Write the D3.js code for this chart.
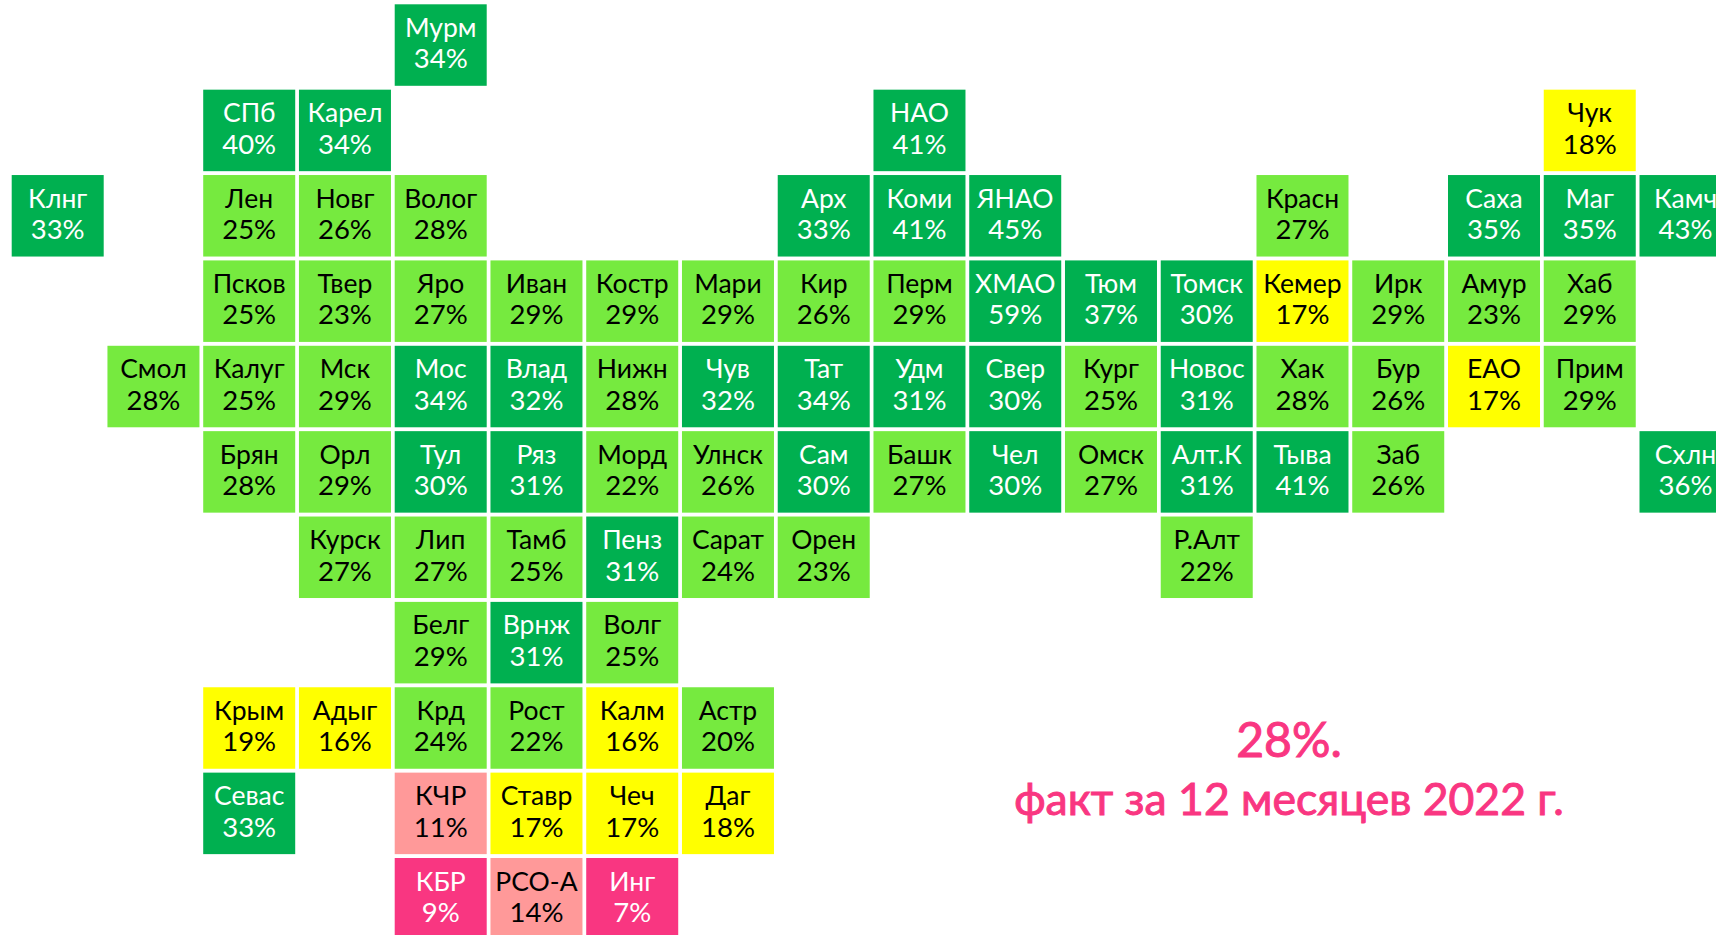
<!DOCTYPE html>
<html lang="ru">
    <head>
        <meta charset="utf-8">
        <title>Tile map</title>
        <script src="https://cdn.jsdelivr.net/npm/d3@7"></script>
        <style>
            html, body { margin: 0; padding: 0; background: #fff; overflow: hidden; }
            svg { display: block; }
            text { font-family: "Lato", "Open Sans", sans-serif; text-anchor: middle; }
            .tile text { font-weight: 400; }
            .tile .name { font-size: 26.5px; }
            .tile .pct { font-size: 27.5px; }
            .note { font-weight: 400; fill: #f93681; stroke: #f93681; stroke-width: 1px; }
        </style>
    </head>
    <body>
        <script>
            var regions = ["Мурм",
                "СПб", "Карел", "НАО", "Чук",
                "Клнг", "Лен", "Новг", "Волог", "Арх", "Коми", "ЯНАО", "Красн", "Саха", "Маг", "Камч",
                "Псков", "Твер", "Яро", "Иван", "Костр", "Мари", "Кир", "Перм", "ХМАО", "Тюм", "Томск", "Кемер", "Ирк", "Амур", "Хаб",
                "Смол", "Калуг", "Мск", "Мос", "Влад", "Нижн", "Чув", "Тат", "Удм", "Свер", "Кург", "Новос", "Хак", "Бур", "ЕАО", "Прим",
                "Брян", "Орл", "Тул", "Ряз", "Морд", "Улнск", "Сам", "Башк", "Чел", "Омск", "Алт.К", "Тыва", "Заб", "Схлн",
                "Курск", "Лип", "Тамб", "Пенз", "Сарат", "Орен", "Р.Алт",
                "Белг", "Врнж", "Волг",
                "Крым", "Адыг", "Крд", "Рост", "Калм", "Астр",
                "Севас", "КЧР", "Ставр", "Чеч", "Даг",
                "КБР", "РСО-А", "Инг"];
            var values = [34,
                40, 34, 41, 18,
                33, 25, 26, 28, 33, 41, 45, 27, 35, 35, 43,
                25, 23, 27, 29, 29, 29, 26, 29, 59, 37, 30, 17, 29, 23, 29,
                28, 25, 29, 34, 32, 28, 32, 34, 31, 30, 25, 31, 28, 26, 17, 29,
                28, 29, 30, 31, 22, 26, 30, 27, 30, 27, 31, 41, 26, 36,
                27, 27, 25, 31, 24, 23, 22,
                29, 31, 25,
                19, 16, 24, 22, 16, 20,
                33, 11, 17, 17, 18,
                9, 14, 7];
            // tile map grid: column of each region
            var gridCols = [4,
                2, 3, 9, 16,
                0, 2, 3, 4, 8, 9, 10, 13, 15, 16, 17,
                2, 3, 4, 5, 6, 7, 8, 9, 10, 11, 12, 13, 14, 15, 16,
                1, 2, 3, 4, 5, 6, 7, 8, 9, 10, 11, 12, 13, 14, 15, 16,
                2, 3, 4, 5, 6, 7, 8, 9, 10, 11, 12, 13, 14, 17,
                3, 4, 5, 6, 7, 8, 12,
                4, 5, 6,
                2, 3, 4, 5, 6, 7,
                2, 4, 5, 6, 7,
                4, 5, 6];
            // number of regions in each grid row
            var rowCounts = [1, 4, 11, 15, 16, 14, 7, 3, 6, 5, 3];
            var thresholds = [10, 15, 20, 30];
            var tileColors = ["#f93681", "#ff9999", "#ffff00", "#76ea3f", "#00b050"];
            var textColors = ["#ffffff", "#000000", "#000000", "#000000", "#ffffff"];
            var noteLines = ["28%.", "факт за 12 месяцев 2022 г."];

            var w = 1716;
            var h = 935;
            var tile_w = 92;
            var tile_h = 81.5;

            var gridRows = [];
            rowCounts.forEach(function (n, r) {
                d3.range(n).forEach(function () { gridRows.push(r); });
            });

            var dataset = regions.map(function (name, i) {
                return { name: name, value: values[i], col: gridCols[i], row: gridRows[i] };
            });

            var xscale = d3.scaleLinear().domain([0, 17]).range([11.7, 1639.5]);
            var yscale = d3.scaleLinear().domain([0, 10]).range([4.3, 858]);
            var fillscale = d3.scaleThreshold().domain(thresholds).range(tileColors);
            var textscale = d3.scaleThreshold().domain(thresholds).range(textColors);

            var svg = d3.select("body").append("svg").attr("width", w).attr("height", h);

            var tiles = svg.selectAll("g.tile").data(dataset).enter().append("g")
                           .attr("class", "tile")
                           .attr("transform", function (d) { return "translate(" + xscale(d.col) + "," + yscale(d.row) + ")"; });

            tiles.append("rect")
                 .attr("width", tile_w)
                 .attr("height", tile_h)
                 .attr("fill", function (d) { return fillscale(d.value); });

            tiles.append("text")
                 .attr("class", "name")
                 .text(function (d) { return d.name; })
                 .attr("x", tile_w / 2)
                 .attr("y", 32.5)
                 .attr("fill", function (d) { return textscale(d.value); });

            tiles.append("text")
                 .attr("class", "pct")
                 .text(function (d) { return d.value + "%"; })
                 .attr("x", tile_w / 2)
                 .attr("y", 64)
                 .attr("fill", function (d) { return textscale(d.value); });

            svg.selectAll("text.note").data(noteLines).enter().append("text")
               .attr("class", "note")
               .text(function (d) { return d; })
               .attr("x", 1289)
               .attr("y", function (d, i) { return 757 + i * 58; })
               .attr("font-size", function (d, i) { return i === 0 ? 48 : 44.5; });
        </script>
    </body>
</html>
